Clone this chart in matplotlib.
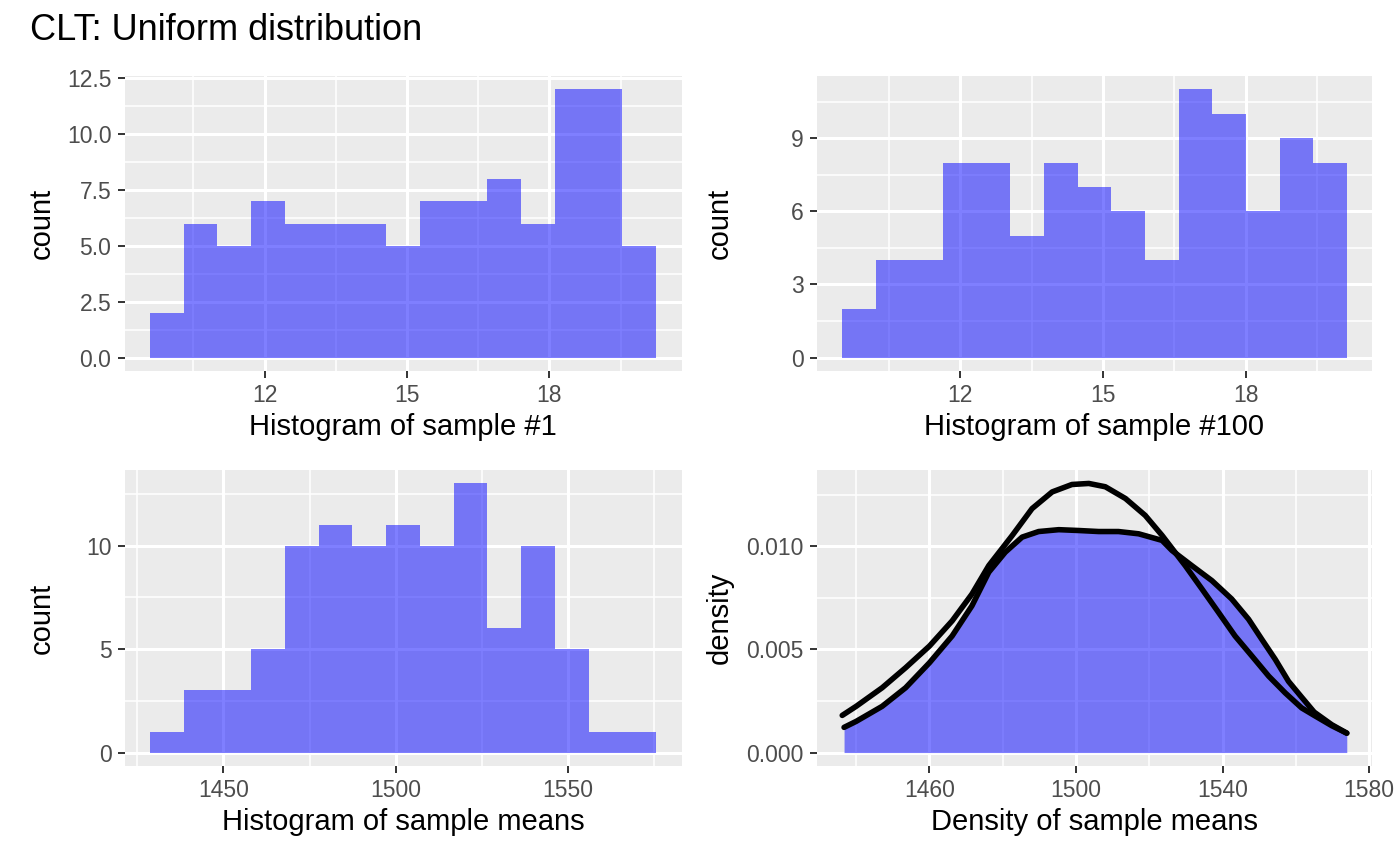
import matplotlib
matplotlib.use("Agg")
import matplotlib.pyplot as plt
import numpy as np

plt.rcParams['font.family'] = ['Liberation Sans', 'DejaVu Sans']

# sample #1 histogram (15 bins)
s1_start = 9.582
s1_binw = 0.711
s1_counts = [2, 6, 5, 7, 6, 6, 6, 5, 7, 7, 8, 6, 12, 12, 5]

# sample #100 histogram
s100_start = 9.52
s100_binw = 0.7073
s100_counts = [2, 4, 4, 8, 8, 5, 8, 7, 6, 4, 11, 10, 6, 9, 8]

# sample means histogram
means_start = 1428.7
means_binw = 9.787
means_counts = [1, 3, 3, 5, 10, 11, 10, 11, 10, 13, 6, 10, 5, 1, 1]

# density of sample means (filled curve)
kde_x = [1436.7, 1440.0, 1447.1, 1453.5, 1460.0, 1466.2, 1471.6, 1476.2, 1480.7,
         1485.3, 1489.8, 1495.3, 1500.7, 1506.2, 1511.6, 1517.1, 1523.5, 1526.2,
         1531.6, 1537.1, 1542.5, 1547.1, 1550.7, 1554.4, 1558.0, 1561.6, 1565.0,
         1569.8, 1573.9]
kde_y = [0.00122, 0.00151, 0.00224, 0.00314, 0.00435, 0.00565, 0.00711, 0.00874, 0.00971,
         0.01044, 0.01071, 0.01080, 0.01076, 0.01071, 0.01071, 0.01060, 0.01028, 0.00979,
         0.00906, 0.00833, 0.00744, 0.00646, 0.00549, 0.00451, 0.00345, 0.00268, 0.00196,
         0.00135, 0.00094]

# second (taller) curve
norm_x = [1436.2, 1440.0, 1447.1, 1453.5, 1460.0, 1466.2, 1471.6, 1476.2, 1482.6,
          1488.0, 1493.5, 1498.9, 1503.5, 1508.0, 1513.5, 1518.9, 1523.5, 1529.8,
          1534.4, 1538.9, 1543.4, 1548.0, 1552.6, 1557.1, 1561.6, 1565.0, 1569.8,
          1573.9]
norm_y = [0.00180, 0.00224, 0.00314, 0.00411, 0.00516, 0.00638, 0.00768, 0.00906, 0.01052,
          0.01182, 0.01263, 0.01299, 0.01304, 0.01288, 0.01231, 0.01149, 0.01052, 0.00906,
          0.00792, 0.00679, 0.00565, 0.00468, 0.00370, 0.00289, 0.00216, 0.00180, 0.00130,
          0.00094]

BG = '#EBEBEB'
FILL = 'blue'


def style(ax, xmaj, xmin, ymaj, ymin, ylabels):
    ax.set_facecolor(BG)
    for s in ax.spines.values():
        s.set_visible(False)
    ax.set_xticks(xmaj)
    ax.set_xticks(xmin, minor=True)
    ax.set_yticks(ymaj)
    ax.set_yticklabels(ylabels)
    ax.set_yticks(ymin, minor=True)
    ax.grid(True, which='major', color='white', lw=2.2)
    ax.grid(True, which='minor', color='white', lw=1.1)
    ax.set_axisbelow(True)
    ax.tick_params(which='major', length=5.2, width=1.4, color='#333333',
                   labelcolor='#4D4D4D', labelsize=16.5, pad=4.2)
    ax.tick_params(which='minor', length=0)


def hist(ax, start, binw, counts):
    n = len(counts)
    lefts = start + binw * np.arange(n)
    ax.bar(lefts, counts, width=binw, align='edge', color=FILL, alpha=0.5, lw=0)
    lo, hi = start, start + binw * n
    pad = (hi - lo) * 0.05
    ax.set_xlim(lo - pad, hi + pad)
    ax.set_ylim(-0.05 * max(counts), 1.05 * max(counts))


def labels(ax, xl, yl, ycx):
    ax.set_xlabel(xl, fontsize=21, va='center')
    ax.xaxis.set_label_coords(0.5, -0.19)
    ax.set_ylabel(yl, fontsize=21, va='center')
    ax.yaxis.set_label_coords(ycx, 0.5)


fig = plt.figure(figsize=(14, 8.66), dpi=100)
W, H = 1400, 866
ax1 = fig.add_axes([124.5 / W, 1 - 371 / H, 557 / W, 295 / H])
ax2 = fig.add_axes([817 / W, 1 - 371 / H, 555 / W, 295 / H])
ax3 = fig.add_axes([124.5 / W, 1 - 766 / H, 557 / W, 296 / H])
ax4 = fig.add_axes([817 / W, 1 - 766 / H, 555 / W, 296 / H])

hist(ax1, s1_start, s1_binw, s1_counts)
style(ax1, [12, 15, 18], [10.5, 13.5, 16.5, 19.5],
      [0, 2.5, 5, 7.5, 10, 12.5], np.arange(1.25, 12.6, 2.5),
      ['0.0', '2.5', '5.0', '7.5', '10.0', '12.5'])
labels(ax1, 'Histogram of sample #1', 'count', -0.148)

hist(ax2, s100_start, s100_binw, s100_counts)
style(ax2, [12, 15, 18], [10.5, 13.5, 16.5, 19.5],
      [0, 3, 6, 9], [1.5, 4.5, 7.5, 10.5], ['0', '3', '6', '9'])
labels(ax2, 'Histogram of sample #100', 'count', -0.175)

hist(ax3, means_start, means_binw, means_counts)
style(ax3, [1450, 1500, 1550], [1425, 1475, 1525, 1575],
      [0, 5, 10], [2.5, 7.5, 12.5], ['0', '5', '10'])
labels(ax3, 'Histogram of sample means', 'count', -0.148)

ax4.fill_between(kde_x, 0, kde_y, color=FILL, alpha=0.5, lw=0)
ax4.plot(kde_x, kde_y, color='black', lw=4.0, solid_capstyle='round',
         solid_joinstyle='round')
ax4.plot(norm_x, norm_y, color='black', lw=4.0, solid_capstyle='round',
         solid_joinstyle='round')
xlo = min(min(kde_x), min(norm_x))
xhi = max(max(kde_x), max(norm_x))
ymax = max(max(kde_y), max(norm_y))
ax4.set_xlim(xlo - 0.05 * (xhi - xlo), xhi + 0.05 * (xhi - xlo))
ax4.set_ylim(-0.05 * ymax, 1.05 * ymax)
style(ax4, [1460, 1500, 1540, 1580], [1440, 1480, 1520, 1560],
      [0, 0.005, 0.010], [0.0025, 0.0075, 0.0125], ['0.000', '0.005', '0.010'])
labels(ax4, 'Density of sample means', 'density', -0.175)

fig.text(30 / W, 1 - 30 / H, 'CLT: Uniform distribution', fontsize=26,
         ha='left', va='center')

fig.savefig('out.png', dpi=100)
